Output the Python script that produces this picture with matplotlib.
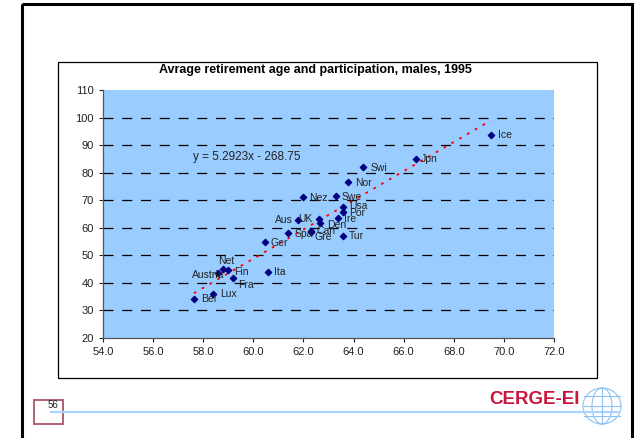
import matplotlib
matplotlib.use("Agg")
from matplotlib import pyplot as plt
from matplotlib.patches import Rectangle, Ellipse
import numpy as np

plt.rcParams['font.family'] = ['Liberation Sans', 'DejaVu Sans']

# retirement age (x) vs participation (y), males 1995
countries = ['Ice', 'Jpn', 'Swi', 'Nor', 'Nez', 'Swe', 'Usa', 'Por', 'Ire', 'Tur',
             'Aus', 'UK', 'Den', 'Can', 'Gre', 'Spa', 'Ger', 'Ita', 'Fra', 'Fin',
             'Net', 'Austria', 'Lux', 'Bel']
ret_age = [69.47, 66.49, 64.39, 63.79, 61.99, 63.30, 63.59, 63.59, 63.39, 63.59,
           61.80, 62.63, 62.66, 62.29, 62.29, 61.40, 60.46, 60.60, 59.18, 58.98,
           58.78, 58.60, 58.39, 57.63]
particip = [93.7, 84.8, 82.0, 76.5, 71.1, 71.5, 67.7, 65.8, 63.4, 57.1,
            63.0, 63.1, 61.6, 59.0, 58.4, 58.0, 55.0, 44.0, 41.7, 44.7,
            45.1, 43.7, 35.9, 34.0]

# linear trend shown on the chart
slope, intercept = 5.2923, -268.75

xticks = np.arange(54, 72.1, 2)
yticks = np.arange(20, 111, 10)

# label offsets in pixels (dx, dy, ha)
offsets = {
    'Ice': (7, 0, 'left'), 'Jpn': (5, 0, 'left'), 'Swi': (7, -1, 'left'),
    'Nor': (7, -1, 'left'), 'Nez': (6, -1, 'left'), 'Swe': (6, -1, 'left'),
    'Usa': (6, 1, 'left'), 'Por': (6, -1, 'left'), 'Ire': (6, -1, 'left'),
    'Tur': (6, 0, 'left'), 'Aus': (-6, 0, 'right'), 'UK': (-7, 0, 'right'),
    'Den': (7, -2, 'left'), 'Can': (6, 0, 'left'), 'Gre': (4, -5, 'left'),
    'Spa': (6, -1, 'left'), 'Ger': (6, -1, 'left'), 'Ita': (6, 0, 'left'),
    'Fra': (5, -7, 'left'), 'Fin': (6, -2, 'left'), 'Net': (3, 8, 'center'),
    'Austria': (6, -2, 'right'), 'Lux': (7, 0, 'left'), 'Bel': (7, 0, 'left'),
}

W, H = 638, 438
fig = plt.figure(figsize=(W / 100, H / 100), dpi=100)

# slide background in pixel coordinates
bg = fig.add_axes([0, 0, 1, 1])
bg.set_xlim(0, W)
bg.set_ylim(H, 0)
bg.axis('off')
bg.add_patch(Rectangle((22, 4), 610, 445, fill=False, ec='black', lw=2.2))
bg.add_patch(Rectangle((58, 62), 539, 316, fill=False, ec='black', lw=0.9))
bg.plot([51, 618], [412, 412], color='#A8D4FF', lw=1.6)
bg.add_patch(Rectangle((34, 400), 29, 24, fill=False, ec='#B06070', lw=1.4))
bg.text(58, 405, '56', fontsize=7, ha='right', va='center', color='#222222')
bg.text(534, 399, 'CERGE-EI', fontsize=13.5, fontweight='bold', color='#C8163C',
        ha='center', va='center')
# globe
globe_c = '#8CC2F2'
bg.add_patch(Ellipse((602, 406), 38, 36, fill=False, ec=globe_c, lw=0.8))
bg.add_patch(Ellipse((602, 406), 20, 36, fill=False, ec=globe_c, lw=0.8))
bg.plot([602, 602], [388, 424], color=globe_c, lw=0.8)
for yy in (396, 406, 416):
    bg.plot([584, 620], [yy, yy], color=globe_c, lw=0.8)

ax = fig.add_axes([103 / W, 1 - 338 / H, 451 / W, 248 / H])
ax.set_facecolor('#99CCFF')
ax.set_xlim(54, 72)
ax.set_ylim(20, 110)
ax.set_xticks(xticks)
ax.set_yticks(yticks)
ax.set_xticklabels([f'{v:.1f}' for v in xticks])
ax.set_yticklabels([f'{v:d}' for v in yticks])
ax.tick_params(labelsize=8, direction='out', length=3, width=0.8, colors='#222222')
for s in ('top', 'right'):
    ax.spines[s].set_visible(False)
for s in ('left', 'bottom'):
    ax.spines[s].set_color('#555555')
    ax.spines[s].set_linewidth(0.9)

for yv in yticks[1:-1]:
    ax.axhline(yv, color='black', lw=0.9, ls=(0, (8, 7)), zorder=1)

xs = np.array([min(ret_age), max(ret_age)])
ax.plot(xs, slope * xs + intercept, color='#FF0000', lw=1.3, ls=(0, (1.5, 3.5)), zorder=2)

ax.scatter(ret_age, particip, marker='D', s=10, color='#000080', zorder=3)

for name, xv, yv in zip(countries, ret_age, particip):
    dx, dy, ha = offsets[name]
    ax.annotate(name, (xv, yv), xytext=(dx, dy), textcoords='offset pixels',
                fontsize=7.5, ha=ha, va='center', color='#222222', zorder=4)

ax.text(57.59, 85.7, 'y = 5.2923x - 268.75', fontsize=8.5, color='#222222',
        va='center', ha='left')

fig.text(315 / W, 1 - 70 / H, 'Avrage retirement age and participation, males, 1995',
         fontsize=9, fontweight='bold', ha='center', va='center')

fig.savefig('out.png', dpi=100)
